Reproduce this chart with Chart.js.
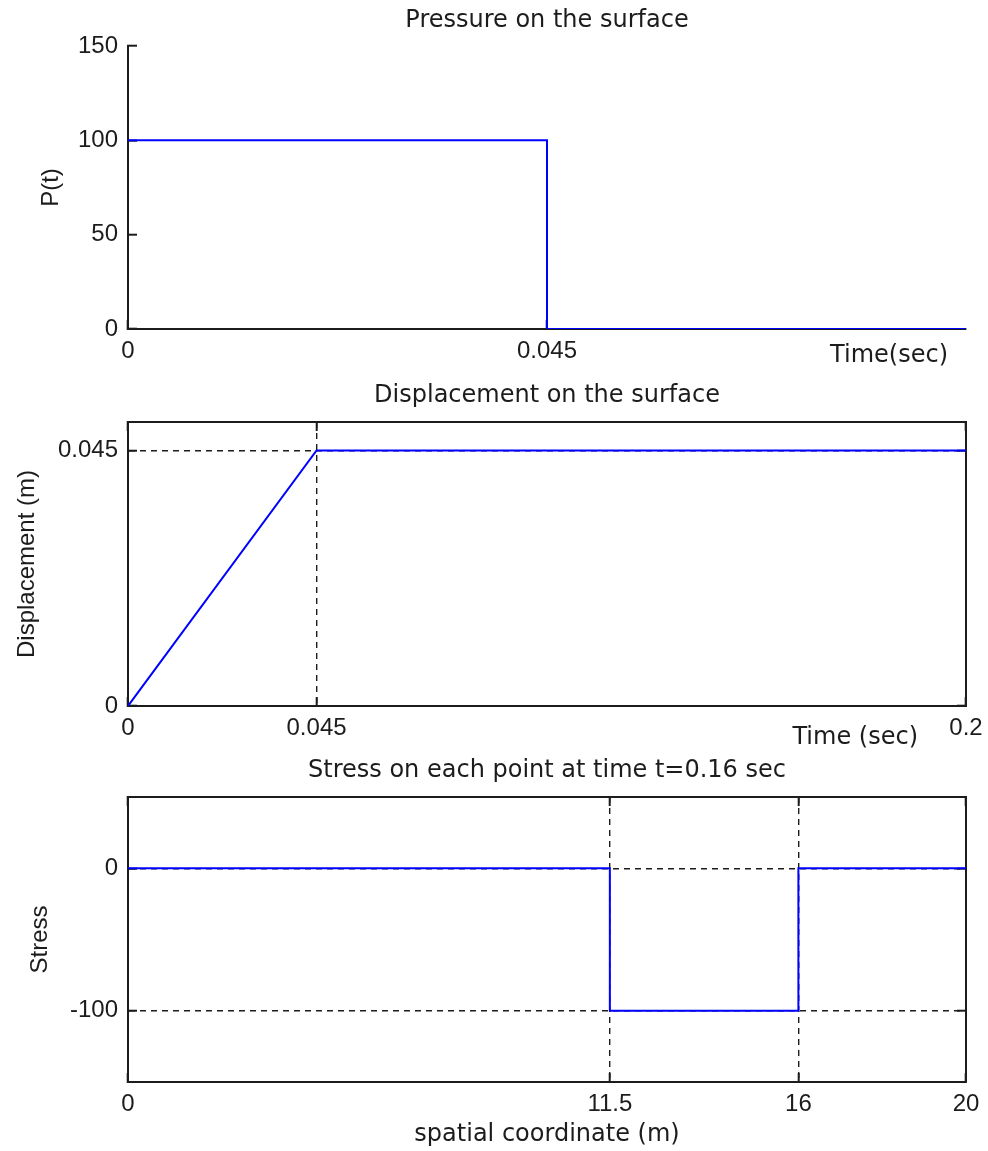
<!DOCTYPE html>
<html>
<head>
<meta charset="utf-8">
<title>Pressure, displacement and stress</title>
<script src="https://cdn.jsdelivr.net/npm/chart.js"></script>
<style>
  body { margin: 0; background: #fff; }
  .panel { position: absolute; left: 0; width: 988px; }
</style>
</head>
<body>
<div class="panel" style="top:0;height:380px"><canvas id="pressureChart"></canvas></div>
<div class="panel" style="top:370px;height:390px"><canvas id="dispChart"></canvas></div>
<div class="panel" style="top:740px;height:411px"><canvas id="stressChart"></canvas></div>
<script>
// pressure pulse
const pressureTime = [0, 0.045, 0.045, 0.09];
const pressureValue = [100, 100, 0, 0];
const pressureXTicks = [0, 0.045];
const pressureXLabels = ["0", "0.045"];
const pressureYTicks = [0, 50, 100, 150];
const pressureYLabels = ["0", "50", "100", "150"];

// surface displacement
const dispTime = [0, 0.045, 0.2];
const dispValue = [0, 0.045, 0.045];
const dispXTicks = [0, 0.045, 0.2];
const dispXLabels = ["0", "0.045", "0.2"];
const dispYTicks = [0, 0.045];
const dispYLabels = ["0", "0.045"];

// stress at t=0.16
const stressX = [0, 11.5, 11.5, 16, 16, 20];
const stressValue = [0, 0, -100, -100, 0, 0];
const stressXTicks = [0, 11.5, 16, 20];
const stressXLabels = ["0", "11.5", "16", "20"];
const stressYTicks = [-100, 0];
const stressYLabels = ["-100", "0"];

const NARROW = '"Liberation Sans", Arial, sans-serif'; // ticks + rotated labels
const WIDE = '"DejaVu Sans", Verdana, sans-serif';     // titles and x labels are wider in the figure
const INK = "#1c1c1c";
const BLUE = "#0000ff";

Chart.defaults.font.family = NARROW;
Chart.defaults.font.size = 24;
Chart.defaults.color = INK;

// text like "Time(sec)" sitting under the right end of the axis
const cornerLabel = {
  id: "cornerLabel",
  afterDraw(chart, args, opts) {
    if (!opts.text) return;
    const { ctx, chartArea } = chart;
    ctx.save();
    ctx.font = "24px " + WIDE;
    ctx.fillStyle = INK;
    ctx.textAlign = "right";
    ctx.textBaseline = "middle";
    ctx.fillText(opts.text, chartArea.right - opts.dx, chartArea.bottom + opts.dy);
    ctx.restore();
  }
};

// matlab-ish axis: fixed ticks pointing inward, optional dashed grid
function axis(o) {
  return {
    type: "linear",
    position: o.position,
    min: o.min,
    max: o.max,
    afterBuildTicks: s => { s.ticks = o.ticks.map(v => ({ value: v })); },
    afterFit: s => {
      if (s.isHorizontal()) s.height = o.size; else s.width = o.size;
      // don't let edge labels push the plot box in
      s.paddingLeft = s.paddingRight = s.paddingTop = s.paddingBottom = 0;
    },
    ticks: {
      display: !!o.labels,
      padding: o.pad || 0,
      maxRotation: 0,
      autoSkip: false,
      color: INK,
      callback: (v, i) => (o.labels ? o.labels[i] : "")
    },
    grid: {
      drawOnChartArea: !!o.dashed,
      color: INK,
      lineWidth: 1.4,
      tickLength: -9,
      tickWidth: 2,
      tickColor: INK
    },
    border: { color: INK, width: 2, dash: [6, 5] },
    title: o.title
      ? {
          display: true,
          text: o.title,
          color: INK,
          font: { family: o.position === "left" ? NARROW : WIDE, size: 24 },
          padding: o.titlePad
        }
      : { display: false }
  };
}

function points(xs, ys) {
  return xs.map((x, i) => ({ x: x, y: ys[i] }));
}

function panel(id, cfg) {
  return new Chart(document.getElementById(id), {
    type: "line",
    data: {
      datasets: [{
        data: cfg.data,
        borderColor: BLUE,
        borderWidth: 2,
        pointRadius: 0,
        tension: 0,
        fill: false
      }]
    },
    options: {
      responsive: true,
      maintainAspectRatio: false,
      animation: false,
      layout: { padding: { left: 0, right: 22, top: 0, bottom: 0 } },
      plugins: {
        legend: { display: false },
        tooltip: { enabled: false },
        title: {
          display: true,
          fullSize: false, // center over the plot box, not the canvas
          text: cfg.title,
          color: INK,
          font: { family: WIDE, size: 24, weight: "normal" },
          padding: cfg.titlePad
        },
        cornerLabel: cfg.corner || {}
      },
      scales: cfg.scales
    },
    plugins: [cornerLabel]
  });
}

panel("pressureChart", {
  title: "Pressure on the surface",
  titlePad: { top: 6.6, bottom: 10.6 },
  data: points(pressureTime, pressureValue),
  corner: { text: "Time(sec)", dx: 18, dy: 27 },
  scales: {
    x: axis({ position: "bottom", min: 0, max: 0.09, ticks: pressureXTicks, labels: pressureXLabels, size: 51, pad: 16.5 }),
    y: axis({ position: "left", min: 0, max: 150, ticks: pressureYTicks, labels: pressureYLabels, size: 128, pad: 19,
      title: "P(t)", titlePad: { top: 36.6, bottom: 0 } })
  }
});

panel("dispChart", {
  title: "Displacement on the surface",
  titlePad: { top: 11.6, bottom: 11.6 },
  data: points(dispTime, dispValue),
  corner: { text: "Time (sec)", dx: 48, dy: 32 },
  scales: {
    x: axis({ position: "bottom", min: 0, max: 0.2, ticks: dispXTicks, labels: dispXLabels, size: 54, pad: 16.5, dashed: true }),
    y: axis({ position: "left", min: 0, max: 0.05, ticks: dispYTicks, labels: dispYLabels, size: 128, pad: 19, dashed: true,
      title: "Displacement (m)", titlePad: { top: 12.6, bottom: 0 } }),
    xTop: axis({ position: "top", min: 0, max: 0.2, ticks: dispXTicks, size: 0 }),
    yRight: axis({ position: "right", min: 0, max: 0.05, ticks: dispYTicks, size: 0 })
  }
});

panel("stressChart", {
  title: "Stress on each point at time t=0.16 sec",
  titlePad: { top: 16.1, bottom: 12.1 },
  data: points(stressX, stressValue),
  scales: {
    x: axis({ position: "bottom", min: 0, max: 20, ticks: stressXTicks, labels: stressXLabels, size: 69, pad: 16.5, dashed: true,
      title: "spatial coordinate (m)", titlePad: { top: 0, bottom: 1.6 } }),
    y: axis({ position: "left", min: -150, max: 50, ticks: stressYTicks, labels: stressYLabels, size: 128, pad: 19, dashed: true,
      title: "Stress", titlePad: { top: 25.6, bottom: 0 } }),
    xTop: axis({ position: "top", min: 0, max: 20, ticks: stressXTicks, size: 0 }),
    yRight: axis({ position: "right", min: -150, max: 50, ticks: stressYTicks, size: 0 })
  }
});
</script>
</body>
</html>
